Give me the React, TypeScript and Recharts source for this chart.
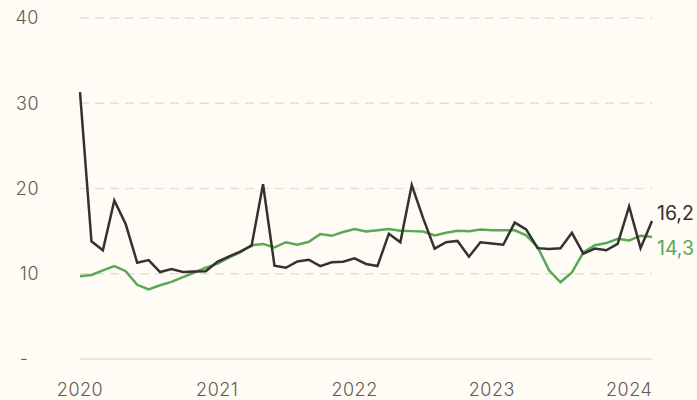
import React from 'react';
import { LineChart, Line, XAxis, YAxis, ReferenceLine } from 'recharts';

const months: number[] = Array.from({ length: 51 }, (_, i) => i);
const blackValues: number[] = [
  31.3, 13.8, 12.75, 18.6, 15.8, 11.3, 11.6, 10.2, 10.55, 10.2, 10.25, 10.3,
  11.4, 12.0, 12.6, 13.3, 20.5, 10.95, 10.7, 11.45, 11.65, 10.9, 11.35, 11.4,
  11.8, 11.15, 10.9, 14.7, 13.7, 20.4, 16.5, 12.95, 13.7, 13.85, 12.0, 13.7,
  13.55, 13.4, 16.0, 15.2, 13.0, 12.9, 13.0, 14.8, 12.35, 12.95, 12.75, 13.5,
  17.9, 13.0, 16.2,
];
const greenValues: number[] = [
  9.7, 9.85, 10.4, 10.9, 10.3, 8.7, 8.15, 8.65, 9.05, 9.6, 10.15, 10.7,
  11.15, 11.9, 12.5, 13.35, 13.5, 13.1, 13.7, 13.4, 13.75, 14.65, 14.45, 14.9,
  15.25, 14.95, 15.1, 15.25, 15.05, 15.0, 14.95, 14.5, 14.8, 15.05, 15.0, 15.2,
  15.1, 15.1, 15.1, 14.5, 13.15, 10.4, 9.0, 10.15, 12.5, 13.35, 13.6, 14.1,
  13.9, 14.45, 14.3,
];
const xTicks: number[] = [0, 12, 24, 36, 48];
const xTickLabels: string[] = ['2020', '2021', '2022', '2023', '2024'];
const yTicks: number[] = [0, 10, 20, 30, 40];
const gridValues: number[] = [10, 20, 30, 40];

const data = months.map((m, i) => ({ m, black: blackValues[i], green: greenValues[i] }));

const FONT = 'Inter, "Noto Sans", sans-serif';
const TEXT = '#5f5b55';

const YTick = (props: any) => {
  const { x, y, payload } = props;
  const isZero = payload.value === 0;
  return (
    <text
      x={isZero ? x - 15 : x}
      y={y}
      dy="0.36em"
      textAnchor={isZero ? 'middle' : 'end'}
      fill={TEXT}
      fontSize={18}
      fontWeight={300}
      letterSpacing={0.5}
      fontFamily={FONT}
    >
      {isZero ? '-' : payload.value}
    </text>
  );
};

const XTick = (props: any) => {
  const { x, y, payload } = props;
  const idx = xTicks.indexOf(payload.value);
  return (
    <text
      x={x}
      y={y}
      dy="0.71em"
      textAnchor="middle"
      fill={TEXT}
      fontSize={18}
      fontWeight={300}
      letterSpacing={0.5}
      fontFamily={FONT}
    >
      {xTickLabels[idx]}
    </text>
  );
};

const endLabel = (color: string, dy: number) => (props: any) => {
  const { x, y, index, value } = props;
  if (index !== data.length - 1) return null;
  return (
    <text
      x={x + 5}
      y={y + dy}
      dy="0.36em"
      textAnchor="start"
      fill={color}
      fontSize={19.5}
      fontWeight={400}
      fontFamily={FONT}
    >
      {String(value.toFixed(1)).replace('.', ',')}
    </text>
  );
};

export default function App() {
  return (
    <div style={{ position: 'absolute', left: 0, top: 0, width: 697, height: 400, background: '#fefcf4' }}>
      <LineChart width={697} height={400} data={data} margin={{ top: 18, right: 45, bottom: 11, left: 20 }}>
        {gridValues.map((v) => (
          <ReferenceLine key={v} y={v} stroke="#e2e0da" strokeWidth={1.5} strokeDasharray="9 6" />
        ))}
        <ReferenceLine y={0} stroke="#e2e0da" strokeWidth={1.5} />
        <XAxis
          dataKey="m"
          type="number"
          domain={[0, 50]}
          ticks={xTicks}
          axisLine={false}
          tickLine={false}
          tickSize={0}
          tickMargin={24}
          height={30}
          tick={<XTick />}
          interval={0}
        />
        <YAxis
          domain={[0, 40]}
          ticks={yTicks}
          axisLine={false}
          tickLine={false}
          tickSize={0}
          tickMargin={41}
          width={60}
          tick={<YTick />}
          interval={0}
        />
        <Line
          dataKey="green"
          stroke="#5aa855"
          strokeWidth={2.5}
          dot={false}
          isAnimationActive={false}
          label={endLabel('#5aa855', 11)}
        />
        <Line
          dataKey="black"
          stroke="#333231"
          strokeWidth={2.5}
          dot={false}
          isAnimationActive={false}
          label={endLabel('#333231', -8)}
        />
      </LineChart>
    </div>
  );
}
